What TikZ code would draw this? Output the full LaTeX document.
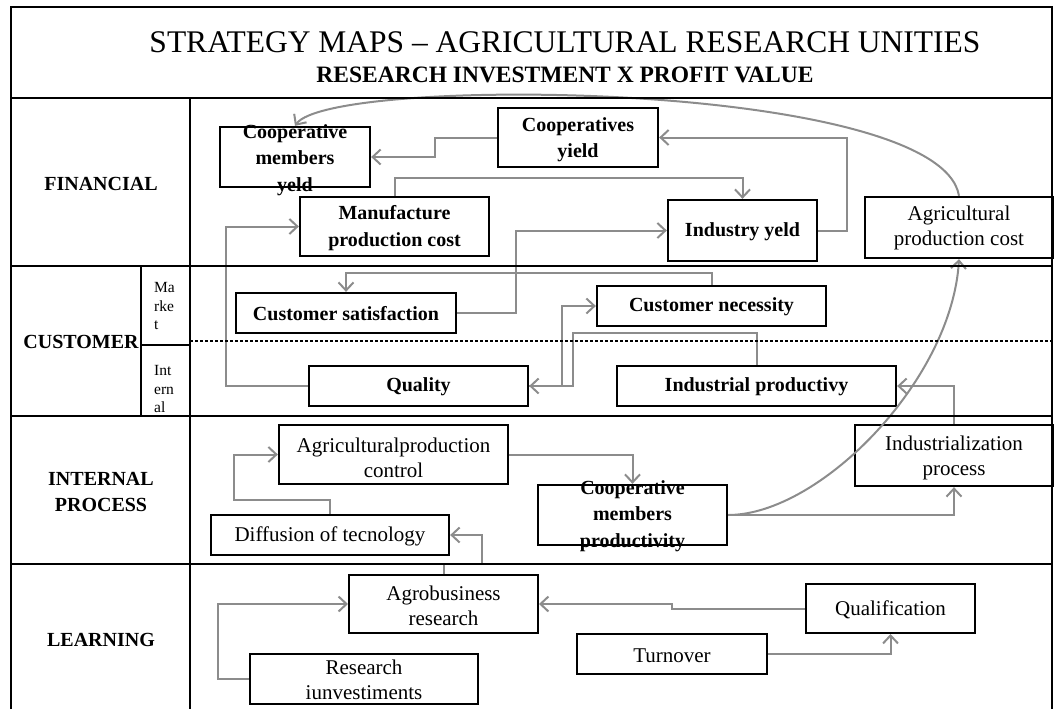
\documentclass[tikz,border=0pt]{standalone}
\usepackage{fontspec}
\setmainfont{Liberation Serif}
\usetikzlibrary{arrows.meta}
\definecolor{linkgray}{RGB}{140,140,140}
\begin{document}
\begin{tikzpicture}[x=1pt,y=-1pt,
  frame/.style={line width=2.4pt},
  boxed/.style={draw, line width=2.3pt, inner sep=0pt},
  conn/.style={draw=linkgray, line width=2pt, -{Straight Barb[length=8pt,width=15pt,line width=2pt]}},
  bt/.style={font=\fontsize{20}{26.5}\selectfont\bfseries, align=center, inner sep=0pt},
  rt/.style={font=\fontsize{21}{25}\selectfont, align=center, inner sep=0pt},
  sect/.style={font=\fontsize{20}{26}\selectfont\bfseries, align=center, inner sep=0pt},
  sub/.style={font=\fontsize{15.5}{18.5}\selectfont, align=left, inner sep=0pt, anchor=west}
]
\useasboundingbox (0,0) rectangle (1054,709);

% ---------- boxes ----------
\node[boxed, minimum width=150pt, minimum height=60pt] (cmy) at (295,157) {};
\node[boxed, minimum width=160pt, minimum height=59pt] (cyield) at (578,137.5) {};
\node[boxed, minimum width=189pt, minimum height=59pt] (mpc) at (394.5,226.5) {};
\node[boxed, minimum width=149pt, minimum height=61pt] (iy) at (742.5,230.5) {};
\node[boxed, minimum width=188pt, minimum height=61pt] (apc) at (959,227.5) {};
\node[boxed, minimum width=220pt, minimum height=40pt] (csat) at (346,313) {};
\node[boxed, minimum width=229pt, minimum height=40pt] (cnec) at (711.5,306) {};
\node[boxed, minimum width=219pt, minimum height=40pt] (qual) at (418.5,386) {};
\node[boxed, minimum width=279pt, minimum height=40pt] (iprod) at (756.5,386) {};
\node[boxed, minimum width=229pt, minimum height=59pt] (apctrl) at (393.5,454.5) {};
\node[boxed, minimum width=238pt, minimum height=40pt] (diff) at (330,535) {};
\node[boxed, minimum width=189pt, minimum height=60pt] (cmp) at (632.5,515) {};
\node[boxed, minimum width=198pt, minimum height=61pt] (indproc) at (954,455.5) {};
\node[boxed, minimum width=189pt, minimum height=58pt, line width=2pt] (agro) at (443.5,604) {};
\node[boxed, minimum width=228pt, minimum height=50pt, line width=2pt] (resinv) at (364,679) {};
\node[boxed, minimum width=169pt, minimum height=49pt, line width=2pt] (qualif) at (890.5,608.5) {};
\node[boxed, minimum width=190pt, minimum height=40pt, line width=2pt] (turn) at (672,654) {};

% ---------- connectors ----------
\draw[conn] (apc.north) .. controls (940,80) and (330,75) .. (cmy.north);
\draw[conn] (cyield.west) -- (435,137.5) |- (cmy.east);
\draw[conn] (iy.east) -- (847,230.5) |- (cyield.east);
\draw[conn] (mpc.north) -- ++(0,-18) -| (iy.north);
\draw[conn] (csat.east) -- (516,313) |- (iy.west);
\draw[conn] (cnec.north) -- ++(0,-12) -| (csat.north);
\draw[conn] (qual.west) -- (226,386) |- (mpc.west);
\draw[conn] (iprod.north) -- (756.5,333) -- (573,333) -- (573,386) -- (qual.east);
\draw[conn] (qual.east) -- (562,386) |- (cnec.west);
\draw[conn] (indproc.north) |- (iprod.east);
\draw[conn] (cmp.east) .. controls (820,515) and (952,380) .. (apc.south);
\draw[conn] (cmp.east) -| (indproc.south);
\draw[conn] (apctrl.east) -| (cmp.north);
\draw[conn] (diff.north) -- (330,500) -- (234,500) |- (apctrl.west);
\draw[conn] (agro.north) -- (443.5,564) -- (482,564) |- (diff.east);
\draw[conn] (resinv.west) -- (218,679) |- (agro.west);
\draw[conn] (qualif.west) -- (672,608.5) -- (672,604) -- (agro.east);
\draw[conn] (turn.east) -| (qualif.south);

% ---------- table frame ----------
\draw[frame] (11,709) -- (11,7) -- (1052,7) -- (1052,709);
\draw[frame] (11,98) -- (1052,98);
\draw[frame] (11,266) -- (1052,266);
\draw[frame] (11,416) -- (1052,416);
\draw[frame] (11,564) -- (1052,564);
\draw[frame] (190,98) -- (190,709);
\draw[frame] (141,266) -- (141,416);
\draw[frame] (141,345) -- (190,345);
\draw[line width=1.3pt, dash pattern=on 3pt off 2pt] (190,341) -- (1052,341);

% ---------- titles ----------
\node[font=\fontsize{31.5}{31.5}\selectfont, inner sep=0pt] (title) at (565,42) {STRATEGY MAPS – AGRICULTURAL RESEARCH UNITIES};
\node[font=\fontsize{23.5}{23.5}\selectfont\bfseries, inner sep=0pt] (subtitle) at (565,75) {RESEARCH INVESTMENT X PROFIT VALUE};

% ---------- perspective labels ----------
\node[sect] (lfin) at (101,184) {FINANCIAL};
\node[sect] (lcus) at (81,342) {CUSTOMER};
\node[sub] (lmkt) at (154,306) {Ma\\rke\\t};
\node[sub] (lint) at (154,389) {Int\\ern\\al};
\node[sect] (lproc) at (101,492) {INTERNAL\\PROCESS};
\node[sect] (llearn) at (101,640) {LEARNING};

% ---------- box texts ----------
\node[bt] (cmy-t) at (295,160) {Cooperative\\members\\yeld};
\node[bt] (cyield-t) at (578,139.5) {Cooperatives\\yield};
\node[bt] (mpc-t) at (394.5,228) {Manufacture\\production cost};
\node[bt] (iy-t) at (742.5,232) {Industry yeld};
\node[rt] (apc-t) at (959,228) {Agricultural\\production cost};
\node[bt] (csat-t) at (346,314) {Customer satisfaction};
\node[bt] (cnec-t) at (711.5,307) {Customer necessity};
\node[bt] (qual-t) at (418.5,387) {Quality};
\node[bt] (iprod-t) at (756.5,387) {Industrial productivy};
\node[rt] (apctrl-t) at (393.5,458) {Agriculturalproduction\\control};
\node[rt] (diff-t) at (330,536) {Diffusion of tecnology};
\node[bt] (cmp-t) at (632.5,516) {Cooperative\\members\\productivity};
\node[rt] (indproc-t) at (954,457.5) {Industrialization\\process};
\node[rt] (agro-t) at (443.5,605.5) {Agrobusiness\\research};
\node[rt] (resinv-t) at (364,679.5) {Research\\iunvestiments};
\node[rt] (qualif-t) at (890.5,610) {Qualification};
\node[rt] (turn-t) at (672,656) {Turnover};
\end{tikzpicture}
\end{document}
